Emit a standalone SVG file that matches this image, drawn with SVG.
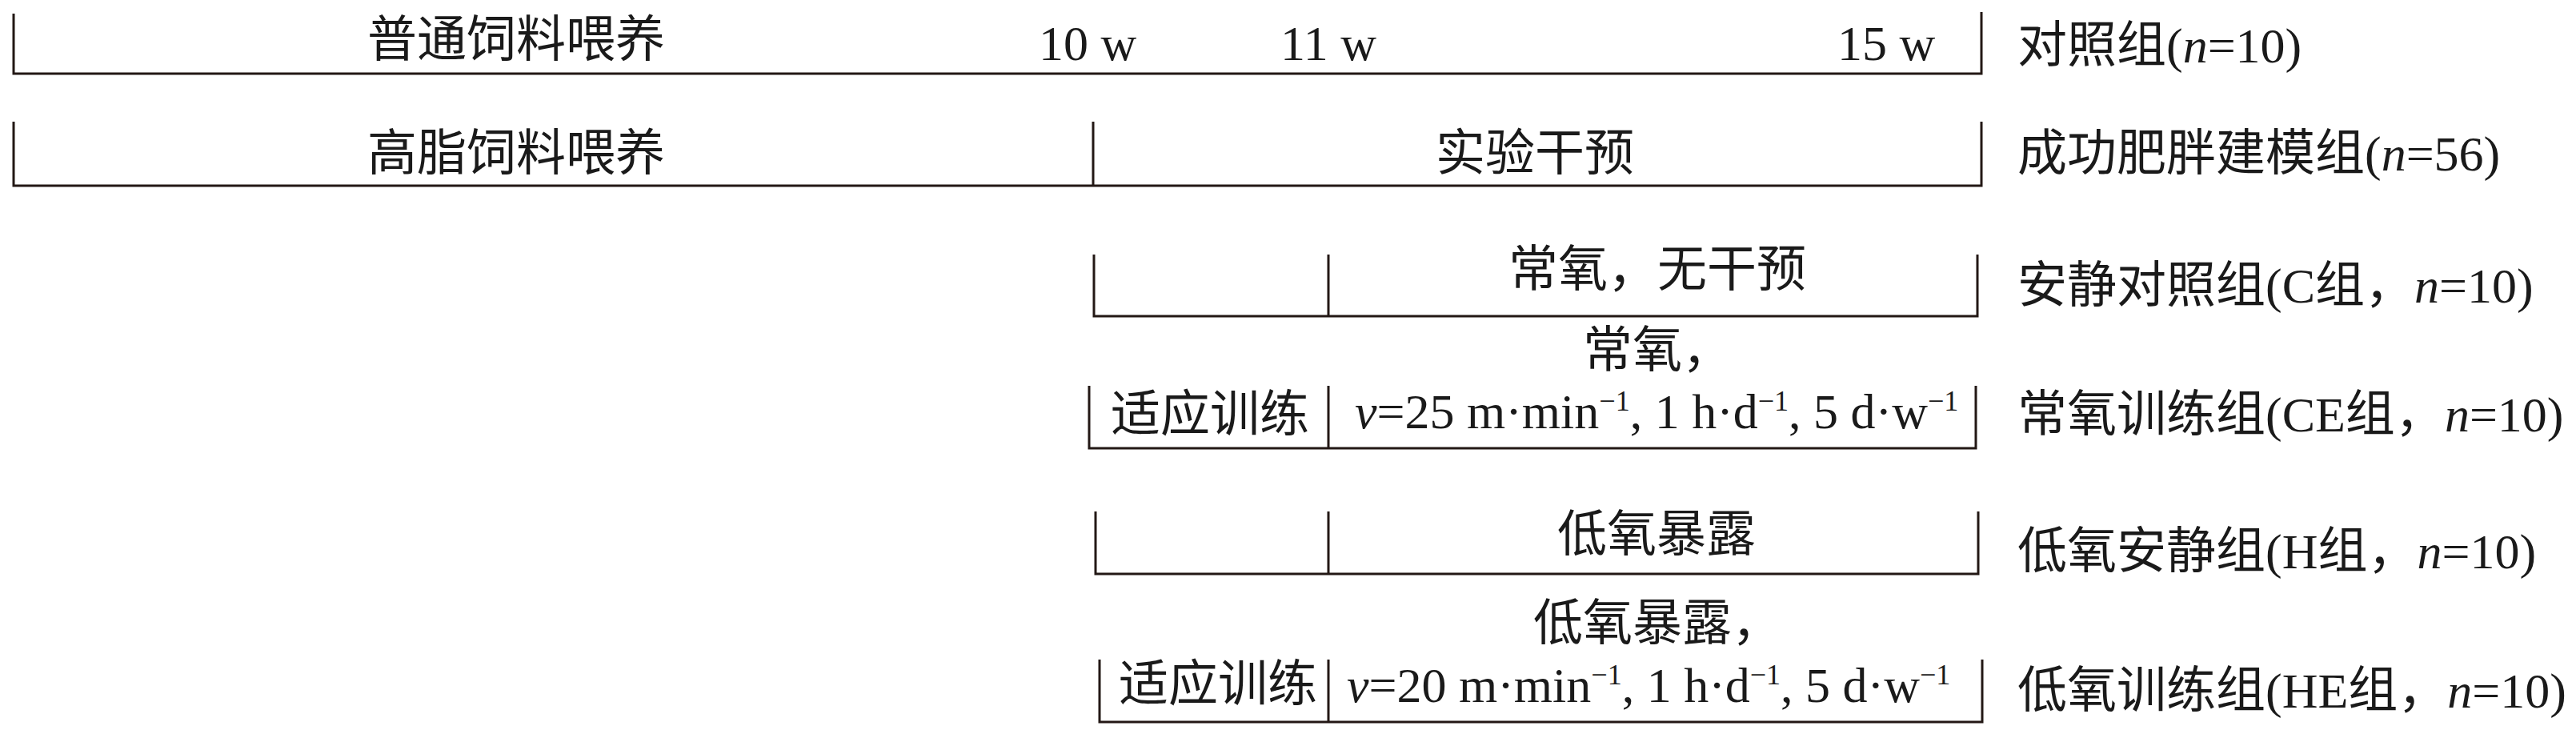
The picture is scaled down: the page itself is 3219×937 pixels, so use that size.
<svg xmlns="http://www.w3.org/2000/svg" width="3219" height="937" viewBox="0 0 3219 937">
<style>
.t{font-family:"Liberation Serif","Noto Sans CJK SC",serif;font-size:62px;fill:#1a1a1a}
.i{font-style:italic}
.s{font-size:36px}
.ln{fill:none;stroke:#231815;stroke-width:3;stroke-linejoin:miter}
</style>
<rect width="3219" height="937" fill="#ffffff"/>
<g id="connectors">
<path class="ln" d="M17,17 V92 H2476 V15"/>
<path class="ln" d="M17,152 V232 H2476 V152 M1366,152 V232"/>
<path class="ln" d="M1367,318 V395 H2471 V318 M1660,318 V395"/>
<path class="ln" d="M1361,482 V560 H2469 V482 M1660,482 V560"/>
<path class="ln" d="M1369,639 V717 H2472 V639 M1660,639 V717"/>
<path class="ln" d="M1374,824 V902 H2477 V824 M1660,824 V902"/>
</g>
<g id="row-control">
<text class="t" x="645" y="71" text-anchor="middle">普通饲料喂养</text>
<text class="t" x="1298" y="75">10 w</text>
<text class="t" x="1600" y="75">11 w</text>
<text class="t" x="2296" y="75">15 w</text>
<text class="t" x="2521" y="78">对照组(<tspan class="i">n</tspan>=10)</text>
</g>
<g id="row-model">
<text class="t" x="645" y="213" text-anchor="middle">高脂饲料喂养</text>
<text class="t" x="1918" y="213" text-anchor="middle">实验干预</text>
<text class="t" x="2521" y="213">成功肥胖建模组(<tspan class="i">n</tspan>=56)</text>
</g>
<g id="row-C">
<text class="t" x="1885" y="358">常氧，无干预</text>
<text class="t" x="2521" y="378">安静对照组(C组，<tspan class="i">n</tspan>=10)</text>
</g>
<g id="row-CE">
<text class="t" x="1978" y="459">常氧，</text>
<text class="t" x="1388" y="539">适应训练</text>
<text class="t" x="1693" y="535"><tspan class="i">v</tspan>=25 m·min<tspan class="s" dy="-22">−1</tspan><tspan dy="22">, 1 h·d</tspan><tspan class="s" dy="-22">−1</tspan><tspan dy="22">, 5 d·w</tspan><tspan class="s" dy="-22">−1</tspan></text>
<text class="t" x="2521" y="539">常氧训练组(CE组，<tspan class="i">n</tspan>=10)</text>
</g>
<g id="row-H">
<text class="t" x="1946" y="689">低氧暴露</text>
<text class="t" x="2521" y="710">低氧安静组(H组，<tspan class="i">n</tspan>=10)</text>
</g>
<g id="row-HE">
<text class="t" x="1916" y="800">低氧暴露，</text>
<text class="t" x="1398" y="876">适应训练</text>
<text class="t" x="1683" y="877"><tspan class="i">v</tspan>=20 m·min<tspan class="s" dy="-22">−1</tspan><tspan dy="22">, 1 h·d</tspan><tspan class="s" dy="-22">−1</tspan><tspan dy="22">, 5 d·w</tspan><tspan class="s" dy="-22">−1</tspan></text>
<text class="t" x="2521" y="884">低氧训练组(HE组，<tspan class="i">n</tspan>=10)</text>
</g>
</svg>
